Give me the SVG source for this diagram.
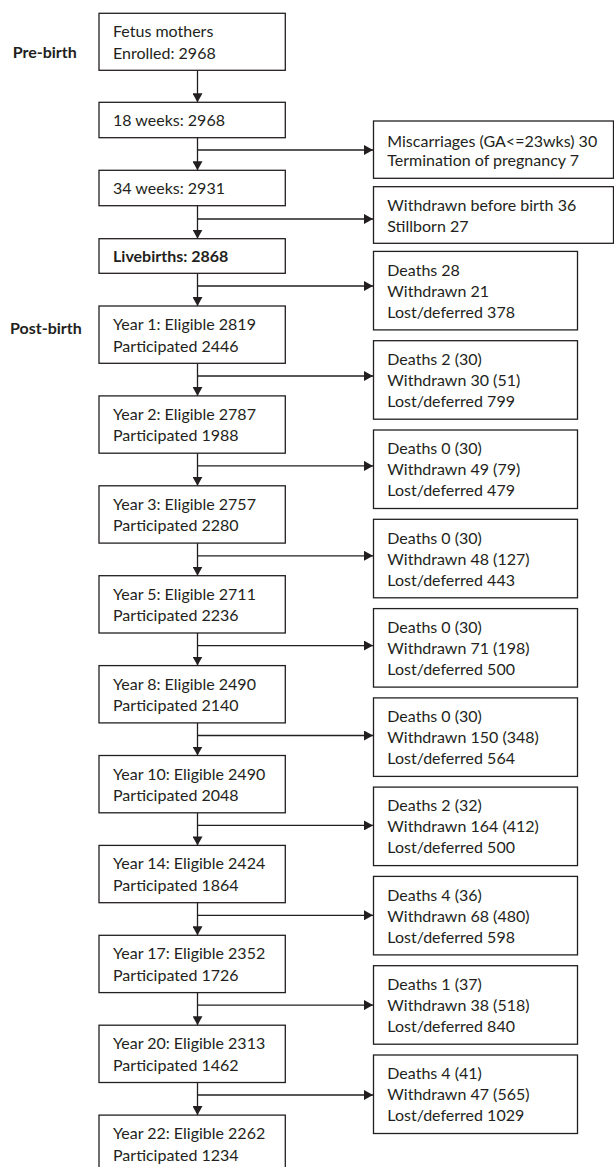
<svg xmlns="http://www.w3.org/2000/svg" width="614" height="1167" viewBox="0 0 614 1167">
<style>
  .bx{fill:#fff;stroke:#231f20;stroke-width:1.3}
  .t{font-family:Lato,"Liberation Sans",sans-serif;font-size:16px;fill:#231f20}
  .b{font-weight:700}
  .c{stroke:#231f20;stroke-width:1.3;fill:none;marker-end:url(#ah)}
</style>
<defs>
  <marker id="ah" viewBox="0 0 9 10" refX="9" refY="5" markerWidth="9" markerHeight="10" markerUnits="userSpaceOnUse" orient="auto" preserveAspectRatio="none">
    <path d="M0,0 L9,5 L0,10 z" fill="#231f20"/>
  </marker>
</defs>
<rect width="614" height="1167" fill="#fff"/>
<g id="labels">
  <text class="t b" x="12.7" y="58.3">Pre-birth</text>
  <text class="t b" x="10" y="334">Post-birth</text>
</g>
<g id="connectors">
  <line class="c" x1="197.5" y1="70.3" x2="197.5" y2="102.3"/>
  <line class="c" x1="197.5" y1="137.7" x2="197.5" y2="170.3"/>
  <line class="c" x1="197.5" y1="150" x2="373" y2="150"/>
  <line class="c" x1="197.5" y1="205.7" x2="197.5" y2="238.7"/>
  <line class="c" x1="197.5" y1="219" x2="373" y2="219"/>
  <line class="c" x1="197.5" y1="273.3" x2="197.5" y2="306"/>
  <line class="c" x1="197.5" y1="286" x2="373" y2="286"/>
  <line class="c" x1="197.5" y1="363.3" x2="197.5" y2="395.9"/>
  <line class="c" x1="197.5" y1="376" x2="373" y2="376"/>
  <line class="c" x1="197.5" y1="453.2" x2="197.5" y2="485.8"/>
  <line class="c" x1="197.5" y1="465.9" x2="373" y2="465.9"/>
  <line class="c" x1="197.5" y1="543.1" x2="197.5" y2="575.7"/>
  <line class="c" x1="197.5" y1="555.8" x2="373" y2="555.8"/>
  <line class="c" x1="197.5" y1="633" x2="197.5" y2="665.6"/>
  <line class="c" x1="197.5" y1="645.6" x2="373" y2="645.6"/>
  <line class="c" x1="197.5" y1="722.9" x2="197.5" y2="755.5"/>
  <line class="c" x1="197.5" y1="735.5" x2="373" y2="735.5"/>
  <line class="c" x1="197.5" y1="812.8" x2="197.5" y2="845.4"/>
  <line class="c" x1="197.5" y1="825.4" x2="373" y2="825.4"/>
  <line class="c" x1="197.5" y1="902.7" x2="197.5" y2="935.3"/>
  <line class="c" x1="197.5" y1="915.3" x2="373" y2="915.3"/>
  <line class="c" x1="197.5" y1="992.6" x2="197.5" y2="1025.2"/>
  <line class="c" x1="197.5" y1="1005.1" x2="373" y2="1005.1"/>
  <line class="c" x1="197.5" y1="1082.5" x2="197.5" y2="1115.1"/>
  <line class="c" x1="197.5" y1="1095" x2="373" y2="1095"/>
</g>
<g id="n-enrolled"><rect class="bx" x="99" y="13.3" width="186.3" height="57"/><text class="t" x="113" y="37.3">Fetus mothers</text><text class="t" x="113" y="59">Enrolled: 2968</text></g>
<g id="n-18wk"><rect class="bx" x="99" y="102.3" width="186.3" height="35.4"/><text class="t" x="113" y="126">18 weeks: 2968</text></g>
<g id="n-34wk"><rect class="bx" x="99" y="170.3" width="186.3" height="35.4"/><text class="t" x="113" y="194.3">34 weeks: 2931</text></g>
<g id="n-live"><rect class="bx" x="99" y="238.7" width="186.3" height="34.6"/><text class="t b" x="113" y="262">Livebirths: 2868</text></g>
<g id="n-y1"><rect class="bx" x="99" y="306" width="186.3" height="57.3"/><text class="t" x="113" y="330">Year 1: Eligible 2819</text><text class="t" x="113" y="351.5">Participated 2446</text></g>
<g id="n-y2"><rect class="bx" x="99" y="395.9" width="186.3" height="57.3"/><text class="t" x="113" y="419.9">Year 2: Eligible 2787</text><text class="t" x="113" y="441.4">Participated 1988</text></g>
<g id="n-y3"><rect class="bx" x="99" y="485.8" width="186.3" height="57.3"/><text class="t" x="113" y="509.8">Year 3: Eligible 2757</text><text class="t" x="113" y="531.3">Participated 2280</text></g>
<g id="n-y5"><rect class="bx" x="99" y="575.7" width="186.3" height="57.3"/><text class="t" x="113" y="599.7">Year 5: Eligible 2711</text><text class="t" x="113" y="621.2">Participated 2236</text></g>
<g id="n-y8"><rect class="bx" x="99" y="665.6" width="186.3" height="57.3"/><text class="t" x="113" y="689.6">Year 8: Eligible 2490</text><text class="t" x="113" y="711.1">Participated 2140</text></g>
<g id="n-y10"><rect class="bx" x="99" y="755.5" width="186.3" height="57.3"/><text class="t" x="113" y="779.5">Year 10: Eligible 2490</text><text class="t" x="113" y="801">Participated 2048</text></g>
<g id="n-y14"><rect class="bx" x="99" y="845.4" width="186.3" height="57.3"/><text class="t" x="113" y="869.4">Year 14: Eligible 2424</text><text class="t" x="113" y="890.9">Participated 1864</text></g>
<g id="n-y17"><rect class="bx" x="99" y="935.3" width="186.3" height="57.3"/><text class="t" x="113" y="959.3">Year 17: Eligible 2352</text><text class="t" x="113" y="980.8">Participated 1726</text></g>
<g id="n-y20"><rect class="bx" x="99" y="1025.2" width="186.3" height="57.3"/><text class="t" x="113" y="1049.2">Year 20: Eligible 2313</text><text class="t" x="113" y="1070.7">Participated 1462</text></g>
<g id="n-y22"><rect class="bx" x="99" y="1115.1" width="186.3" height="57.3"/><text class="t" x="113" y="1139.1">Year 22: Eligible 2262</text><text class="t" x="113" y="1160.6">Participated 1234</text></g>
<g id="r-misc"><rect class="bx" x="373.5" y="121" width="240" height="57.3"/><text class="t" x="387.3" y="146.7">Miscarriages (GA&lt;=23wks) 30</text><text class="t" x="387.3" y="165.7">Termination of pregnancy 7</text></g>
<g id="r-withdrawn"><rect class="bx" x="373.5" y="186.7" width="240" height="56.6"/><text class="t" x="387.3" y="210.7">Withdrawn before birth 36</text><text class="t" x="387.3" y="231.7">Stillborn 27</text></g>
<g id="r0"><rect class="bx" x="373.5" y="251.4" width="204" height="78.5"/><text class="t" x="387.3" y="275.7">Deaths 28</text><text class="t" x="387.3" y="296.7">Withdrawn 21</text><text class="t" x="387.3" y="317.7">Lost/deferred 378</text></g>
<g id="r1"><rect class="bx" x="373.5" y="340.7" width="204" height="78.5"/><text class="t" x="387.3" y="365">Deaths 2 (30)</text><text class="t" x="387.3" y="386">Withdrawn 30 (51)</text><text class="t" x="387.3" y="407">Lost/deferred 799</text></g>
<g id="r2"><rect class="bx" x="373.5" y="430" width="204" height="78.5"/><text class="t" x="387.3" y="454.3">Deaths 0 (30)</text><text class="t" x="387.3" y="475.3">Withdrawn 49 (79)</text><text class="t" x="387.3" y="496.3">Lost/deferred 479</text></g>
<g id="r3"><rect class="bx" x="373.5" y="519.3" width="204" height="78.5"/><text class="t" x="387.3" y="543.6">Deaths 0 (30)</text><text class="t" x="387.3" y="564.6">Withdrawn 48 (127)</text><text class="t" x="387.3" y="585.6">Lost/deferred 443</text></g>
<g id="r4"><rect class="bx" x="373.5" y="608.6" width="204" height="78.5"/><text class="t" x="387.3" y="632.9">Deaths 0 (30)</text><text class="t" x="387.3" y="653.9">Withdrawn 71 (198)</text><text class="t" x="387.3" y="674.9">Lost/deferred 500</text></g>
<g id="r5"><rect class="bx" x="373.5" y="697.9" width="204" height="78.5"/><text class="t" x="387.3" y="722.2">Deaths 0 (30)</text><text class="t" x="387.3" y="743.2">Withdrawn 150 (348)</text><text class="t" x="387.3" y="764.2">Lost/deferred 564</text></g>
<g id="r6"><rect class="bx" x="373.5" y="787.1" width="204" height="78.5"/><text class="t" x="387.3" y="811.4">Deaths 2 (32)</text><text class="t" x="387.3" y="832.4">Withdrawn 164 (412)</text><text class="t" x="387.3" y="853.4">Lost/deferred 500</text></g>
<g id="r7"><rect class="bx" x="373.5" y="876.4" width="204" height="78.5"/><text class="t" x="387.3" y="900.7">Deaths 4 (36)</text><text class="t" x="387.3" y="921.7">Withdrawn 68 (480)</text><text class="t" x="387.3" y="942.7">Lost/deferred 598</text></g>
<g id="r8"><rect class="bx" x="373.5" y="965.7" width="204" height="78.5"/><text class="t" x="387.3" y="990">Deaths 1 (37)</text><text class="t" x="387.3" y="1011">Withdrawn 38 (518)</text><text class="t" x="387.3" y="1032">Lost/deferred 840</text></g>
<g id="r9"><rect class="bx" x="373.5" y="1055" width="204" height="78.5"/><text class="t" x="387.3" y="1079.3">Deaths 4 (41)</text><text class="t" x="387.3" y="1100.3">Withdrawn 47 (565)</text><text class="t" x="387.3" y="1121.3">Lost/deferred 1029</text></g>
</svg>
